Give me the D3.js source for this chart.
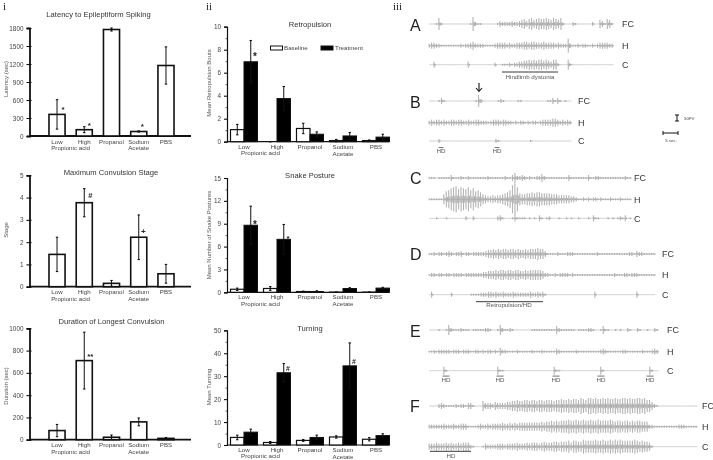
<!DOCTYPE html>
<html>
<head>
<meta charset="utf-8">
<script src="https://cdnjs.cloudflare.com/ajax/libs/d3/7.8.5/d3.min.js"></script>
<style>
  body { margin: 0; background: #fff; }
  text { font-family: "Liberation Sans", Arial, sans-serif; }
  svg { filter: grayscale(1); }
</style>
</head>
<body>
<div id="chart"></div>
<script>
// ---- bar data ----
const drugs = ["Low", "High", "Propanol", "Sodium", "PBS"];

const latency = [360, 105, 1775, 75, 1175];
const latencyErr = [245, 50, 25, 10, 310];
const stage = [1.45, 3.77, 0.15, 2.22, 0.58];
const stageErr = [0.77, 0.63, 0.13, 1.0, 0.42];
const duration = [82, 710, 22, 160, 12];
const durationErr = [55, 255, 20, 35, 8];

const retroBase = [1.05, 0, 1.15, 0.1, 0.1];
const retroBaseErr = [0.45, 0, 0.45, 0.1, 0.05];
const retroTreat = [6.95, 3.75, 0.65, 0.5, 0.4];
const retroTreatErr = [1.85, 1.05, 0.2, 0.3, 0.25];
const snakeBase = [0.4, 0.5, 0.1, 0.02, 0.02];
const snakeBaseErr = [0.15, 0.25, 0.05, 0, 0];
const snakeTreat = [8.8, 6.95, 0.1, 0.5, 0.55];
const snakeTreatErr = [2.5, 1.95, 0.1, 0.1, 0.1];
const turnBase = [3.3, 1.1, 2, 3.5, 2.5];
const turnBaseErr = [1, 0.4, 0.4, 0.5, 0.7];
const turnTreat = [5.6, 31.5, 3.3, 34.5, 4.1];
const turnTreatErr = [1.3, 4, 1, 10, 0.8];

// ---- EEG traces: half height of each wiggle, read left to right ----
const aFC = [0,0,0,1,6,1,0,0,0,0,0,0,0,0,0,0,0,1,7,2,1,1,0,0,0,0,0,0,1,3,2,2,2,2,3,2,2,3,4,5,3,5,6,4,5,6,5,5,6,5,4,6,5,4,6,1,0,0,0,2,1,0,0,0,0,0,0,2,0,0,4,3,1,5,4,1];
const aH = [2,3,3,2,2,1,1,1,1,1,1,1,1,2,1,2,2,3,4,2,2,2,2,1,1,1,1,2,3,3,3,3,2,3,2,2,3,3,3,4,4,3,4,4,3,3,3,4,3,3,3,3,2,3,2,2,2,7,2,1,1,2,1,2,2,1,1,2,1,2,3,3,3,3,2,2];
const aC = [0,0,3,0,0,0,0,0,0,0,0,0,0,0,0,0,3,0,0,0,0,0,0,0,0,0,0,2,0,0,1,1,1,2,1,2,2,3,3,4,4,5,4,5,4,5,5,4,5,4,3,5,5,1,0,0,0,5,1,0,0,0,0,0,0,0,0,0,0,0,0,0,0,0,0,0];
const bFC = [0,0,0,0,1,3,1,0,0,0,0,0,0,0,0,0,0,0,0,1,6,2,0,0,0,0,0,0,1,2,1,0,0,0,0,0,1,1,0,0,0,0,0,0,0,0,0,0,1,1,3,1,3,1,0,1,0,0];
const bH = [2,3,2,3,3,2,3,2,2,3,3,2,3,3,2,2,3,2,2,3,3,2,2,2,1,2,3,3,3,2,3,3,2,2,1,2,1,2,2,1,2,1,2,2,1,2,3,3,3,3,4,4,3,2,3,2,3,2];
const bC = [0,0,0,0,2,0,0,0,0,0,0,0,0,0,0,0,0,0,0,0,0,0,0,0,0,0,0,2,1,0,0,0,0,0,0,0,0,0,0,0,0,1,0,0,0,0,0,0,0,0,0,0,0,0,0,0,0,0];
const cFC = [1,1,1,0,1,1,1,1,1,3,1,1,1,2,1,1,2,1,1,1,1,1,1,1,2,1,1,1,1,1,1,2,1,1,3,5,2,2,3,2,1,2,1,1,2,2,4,2,1,1,1,1,1,1,1,1,1,3,1,1,1,1,1,1,1,3,1,1,2,2,1,1,1,1,1,1,1,1,1,1,2,1,1];
const cH = [1,1,1,1,1,1,5,8,9,11,12,13,10,12,11,10,12,9,11,8,9,7,5,4,3,3,4,3,4,4,5,6,7,9,14,16,12,6,5,5,6,6,7,6,7,7,6,6,6,6,5,5,5,4,4,4,4,4,3,3,2,1,1,2,1,2,1,2,2,1,2,1,1,1,2,1,1,1,2,1,1,1,1];
const cC = [0,0,0,1,0,0,0,1,0,0,0,0,0,0,0,2,0,0,2,0,0,0,0,0,0,0,0,0,2,3,1,0,0,0,1,3,1,1,1,1,0,1,0,1,0,3,1,0,1,2,0,0,0,1,0,0,1,0,1,0,0,1,0,0,0,1,0,3,1,1,0,0,0,1,0,1,0,1,2,1,3,0,1];
const dFC = [1,1,2,1,2,2,1,2,3,2,1,2,2,3,1,2,2,1,2,2,2,2,2,3,4,4,5,4,5,4,5,5,4,5,5,4,5,4,4,5,4,5,5,5,6,5,5,3,1,1,1,1,2,1,1,1,2,2,2,1,1,1,1,1,1,1,1,1,2,1,1,1,1,1,1,1,1,1,1,1,1,2,2,1,3,2,2,1,1,1,1,1];
const dH = [1,2,2,1,2,2,1,2,2,1,2,2,2,2,1,2,2,2,2,2,2,2,3,3,4,4,4,5,4,5,5,4,5,5,4,5,5,4,4,5,4,5,5,5,5,5,4,2,2,1,1,2,1,2,2,2,2,1,2,1,1,1,1,1,1,1,1,1,1,1,1,1,1,1,1,2,1,1,1,2,2,1,2,2,2,1,1,1,1,1,1,1];
const dC = [0,3,0,0,0,0,0,0,0,2,0,0,0,0,0,0,0,1,1,1,1,2,2,2,3,3,2,3,2,2,3,2,2,2,3,2,2,2,2,2,2,3,2,2,3,2,3,1,0,0,0,0,0,0,0,0,0,0,0,0,0,0,0,0,0,0,0,3,0,0,0,0,0,0,0,0,0,0,0,0,0,0,0,0,3,0,0,0,0,0,0,0];
const eFC = [0,0,0,0,1,0,0,1,5,2,1,1,1,2,1,1,1,0,1,1,1,1,1,2,2,1,0,0,1,5,2,1,1,2,1,0,0,0,0,0,0,0,1,1,1,1,1,1,1,1,1,1,4,2,1,1,1,1,1,1,0,1,1,1,1,2,2,1,0,0,1,4,1,1,0,0,1,0,1,0,0,2,1,0,0,2,1,0,0,1,0,0,2,1];
const eH = [1,1,2,1,2,2,2,2,2,1,2,2,2,1,2,2,2,1,1,2,2,1,2,1,2,2,1,2,1,4,2,2,1,1,1,1,2,1,1,1,1,1,2,1,1,1,2,1,1,1,1,1,3,2,1,1,1,1,1,1,2,1,1,1,1,1,1,1,1,1,2,3,2,1,1,1,1,1,1,2,2,1,1,1,1,1,1,2,1,1,1,2,3,2];
const eC = [0,0,0,0,0,0,4,1,0,0,0,0,0,0,0,0,0,0,0,0,0,0,0,0,0,0,0,0,4,1,1,0,0,0,0,0,0,0,0,0,0,0,0,0,0,0,0,0,0,0,0,4,1,1,0,0,0,0,0,0,0,0,0,0,0,0,0,0,0,0,4,1,0,0,0,0,0,0,0,0,0,0,0,0,0,0,0,0,0,0,4,1,0,0];
const fFC = [0,0,0,0,2,3,2,1,1,1,1,2,1,2,2,1,3,3,1,0,0,0,5,3,3,3,2,4,3,3,3,3,4,4,5,5,6,5,5,6,6,5,6,6,5,6,6,5,6,6,6,5,6,6,7,6,6,7,6,7,7,6,8,7,6,8,8,7,8,7,7,8,7,8,7,7,8,7,7,8,8,7,8,7,7,8,8,7,8,6,6,4,2,1,0,0,0,0,0,0,0,0,0,0,0,0,0,0,0,0];
const fH = [2,2,2,2,2,2,3,2,2,2,3,2,2,3,3,3,1,1,1,1,2,3,2,2,3,2,3,3,3,3,4,3,3,4,3,4,3,4,4,4,4,4,4,4,4,4,5,4,5,5,6,5,6,5,6,6,6,7,6,6,7,6,6,7,6,6,7,6,6,7,6,6,6,6,7,6,5,6,6,5,6,6,5,6,5,6,6,5,5,5,2,2,1,1,1,1,1,1,1,1,1,1,2,2,2,1,1,1,1,1];
const fC = [3,3,3,4,3,3,3,4,3,4,3,3,4,3,4,4,4,2,1,0,0,0,1,3,2,2,2,2,3,3,3,2,3,3,3,3,4,3,3,3,4,3,4,4,4,3,4,5,4,4,4,5,5,4,5,5,5,6,4,6,6,5,5,7,6,6,6,6,7,6,6,7,6,6,7,6,7,6,7,6,6,6,6,6,7,6,5,6,5,5,4,1,0,0,0,0,0,0,0,0,0,0,0,0,0,0,0,0,0,0];

const width = 713, height = 460;
const svg = d3.select("#chart").append("svg")
  .attr("width", width).attr("height", height)
  .style("display", "block");

// roman panel numbers
[["i", 3], ["ii", 206], ["iii", 393]].forEach(function(p) {
  svg.append("text").attr("x", p[1]).attr("y", 9.5).text(p[0])
    .style("font-family", "'Liberation Serif', serif").style("font-size", "11px").attr("fill", "#222");
});

// ---- shared bits of the bar panels ----
function drawAxes(p, y) {
  const x = d3.scaleBand().domain(drugs).range(p.band).paddingInner(p.inner).paddingOuter(p.inner / 2);

  const yAxis = svg.append("g").attr("transform", `translate(${p.axisX},0)`)
    .call(d3.axisLeft(y).tickValues(p.ticks).tickSize(3).tickPadding(3).tickFormat(d3.format("d")));
  yAxis.select(".domain").attr("stroke", "#111").attr("stroke-width", p.axisW);
  yAxis.selectAll(".tick line").attr("stroke", "#111").attr("stroke-width", 1.1).attr("x2", -3).attr("x1", p.inTick);
  yAxis.selectAll("text").style("font-size", "6.4px").attr("fill", "#444");

  if (p.minor) {
    const m = svg.append("g").attr("transform", `translate(${p.axisX},0)`)
      .call(d3.axisLeft(y).tickValues(p.minor).tickSize(1.5).tickFormat(""));
    m.select(".domain").remove();
    m.selectAll("line").attr("stroke", "#333").attr("stroke-width", 0.8);
  }

  // x axis line runs past the last band
  svg.append("line").attr("x1", p.axisX).attr("x2", p.xEnd)
    .attr("y1", p.y0).attr("y2", p.y0)
    .attr("stroke", "#111").attr("stroke-width", p.axisW);

  // category labels
  svg.selectAll(null).data(drugs).enter().append("text")
    .attr("x", d => x(d) + x.bandwidth() / 2)
    .attr("y", p.y0 + p.lab1)
    .attr("text-anchor", "middle")
    .style("font-size", "6.2px").attr("fill", "#444")
    .text(d => d);
  svg.append("text")
    .attr("x", (x("Low") + x("High") + x.bandwidth()) / 2)
    .attr("y", p.y0 + p.lab2).attr("text-anchor", "middle")
    .style("font-size", "6.2px").attr("fill", "#444").text("Propionic acid");
  svg.append("text")
    .attr("x", x("Sodium") + x.bandwidth() / 2)
    .attr("y", p.y0 + p.lab3).attr("text-anchor", "middle")
    .style("font-size", "6.2px").attr("fill", "#444").text("Acetate");

  // title and y label
  svg.append("text").attr("x", p.titleX).attr("y", p.titleY).attr("text-anchor", "middle")
    .style("font-size", "7.6px").attr("fill", "#333").text(p.title);
  svg.append("text")
    .attr("transform", `translate(${p.yLabX},${p.yLabY}) rotate(-90)`)
    .attr("text-anchor", "middle")
    .style("font-size", "6px").attr("fill", "#555").text(p.yLab);
  return x;
}

function drawBars(x, y, names, vals, errs, fill, dx, w, sw) {
  svg.selectAll(null).data(vals).enter().append("rect")
    .attr("x", (d, i) => x(names[i]) + dx)
    .attr("y", d => y(d))
    .attr("width", w)
    .attr("height", d => y(0) - y(d))
    .attr("fill", fill).attr("stroke", "#111").attr("stroke-width", sw);
  // whiskers with small caps
  const cx = i => x(names[i]) + dx + w / 2;
  svg.selectAll(null).data(vals).enter().append("line")
    .attr("x1", (d, i) => cx(i)).attr("x2", (d, i) => cx(i))
    .attr("y1", (d, i) => y(d + errs[i]))
    .attr("y2", (d, i) => y(Math.max(0, d - errs[i])))
    .attr("stroke", "#111").attr("stroke-width", 1);
  [1, -1].forEach(function(s) {
    svg.selectAll(null).data(vals).enter().append("line")
      .attr("x1", (d, i) => cx(i) - 1.2).attr("x2", (d, i) => cx(i) + 1.2)
      .attr("y1", (d, i) => y(Math.max(0, d + s * errs[i])))
      .attr("y2", (d, i) => y(Math.max(0, d + s * errs[i])))
      .attr("stroke", "#111").attr("stroke-width", 1.1);
  });
}

function mark(x, y, cat, dx, val, sym, size) {
  svg.append("text")
    .attr("x", x(cat) + x.bandwidth() / 2 + dx).attr("y", y(val))
    .attr("text-anchor", "middle").style("font-size", (size || 8) + "px").attr("fill", "#222")
    .style("font-weight", "bold")
    .text(sym);
}

// ---- column i ----
const col1 = {band: [43.4, 179.6], inner: 0.41, axisX: 29.5, xEnd: 191, axisW: 1.8, inTick: 2,
  lab1: 7.6, lab2: 14.2, lab3: 14.4};

const p1 = Object.assign({}, col1, {y0: 136, title: "Latency to Epileptiform Spiking", titleX: 98.5, titleY: 16.5,
  yLab: "Latency (sec)", yLabX: 8, yLabY: 79, ticks: [0, 300, 600, 900, 1200, 1500, 1800]});
const y1 = d3.scaleLinear().domain([0, 1800]).range([136, 28]);
const x1 = drawAxes(p1, y1);
drawBars(x1, y1, drugs, latency, latencyErr, "#fff", 0, x1.bandwidth(), 1.6);
mark(x1, y1, "Low", 6, 400, "*");
mark(x1, y1, "High", 5, 135, "*");
mark(x1, y1, "Sodium", 3.5, 115, "*");

const p2 = Object.assign({}, col1, {y0: 286.7, title: "Maximum Convulsion Stage", titleX: 111, titleY: 175.3,
  yLab: "Stage", yLabX: 8, yLabY: 230, ticks: [0, 1, 2, 3, 4, 5]});
const y2 = d3.scaleLinear().domain([0, 5]).range([286.7, 175.3]);
const x2 = drawAxes(p2, y2);
drawBars(x2, y2, drugs, stage, stageErr, "#fff", 0, x2.bandwidth(), 1.6);
mark(x2, y2, "High", 6, 3.98, "#", 7.5);
mark(x2, y2, "Sodium", 4.5, 2.35, "+", 8);

const p3 = Object.assign({}, col1, {y0: 439.7, title: "Duration of Longest Convulsion", titleX: 111.5, titleY: 323.5,
  yLab: "Duration (sec)", yLabX: 8, yLabY: 386, ticks: [0, 200, 400, 600, 800, 1000]});
const y3 = d3.scaleLinear().domain([0, 1000]).range([439.7, 328.3]);
const x3 = drawAxes(p3, y3);
drawBars(x3, y3, drugs, duration, durationErr, "#fff", 0, x3.bandwidth(), 1.6);
mark(x3, y3, "High", 6, 725, "**", 8);

// ---- column ii ----
const col2 = {band: [227.5, 392.5], inner: 0.18, axisX: 227, xEnd: 389, axisW: 1.2, inTick: 0,
  lab1: 7, lab2: 13.2, lab3: 14};
const barW = 13.5;

function pairs(x, y, base, baseErr, treat, treatErr) {
  drawBars(x, y, drugs, base, baseErr, "#fff", x.bandwidth() / 2 - barW, barW, 1.2);
  drawBars(x, y, drugs, treat, treatErr, "#000", x.bandwidth() / 2, barW, 1);
}

const p4 = Object.assign({}, col2, {y0: 141.7, title: "Retropulsion", titleX: 310, titleY: 26.5,
  yLab: "Mean Retropulsion Bouts", yLabX: 211, yLabY: 83, ticks: [0, 2, 4, 6, 8, 10], minor: [1, 3, 5, 7, 9]});
const y4 = d3.scaleLinear().domain([0, 10]).range([141.7, 26.7]);
const x4 = drawAxes(p4, y4);
pairs(x4, y4, retroBase, retroBaseErr, retroTreat, retroTreatErr);
mark(x4, y4, "Low", 11, 7.1, "*", 10);

// legend
[["Baseline", "#fff", 270.5, 284], ["Treatment", "#000", 321, 335]].forEach(function(l) {
  svg.append("rect").attr("x", l[2]).attr("y", 46).attr("width", 12).attr("height", 4)
    .attr("fill", l[1]).attr("stroke", "#111").attr("stroke-width", 1);
  svg.append("text").attr("x", l[3]).attr("y", 50.2).text(l[0])
    .style("font-size", "6.2px").attr("fill", "#444");
});

const p5 = Object.assign({}, col2, {y0: 292.3, title: "Snake Posture", titleX: 310, titleY: 177.5,
  yLab: "Mean Number of Snake Postures", yLabX: 211, yLabY: 235, ticks: [0, 3, 6, 9, 12, 15], minor: [1.5, 4.5, 7.5, 10.5, 13.5]});
const y5 = d3.scaleLinear().domain([0, 15]).range([292.3, 178]);
const x5 = drawAxes(p5, y5);
pairs(x5, y5, snakeBase, snakeBaseErr, snakeTreat, snakeTreatErr);
mark(x5, y5, "Low", 11, 8.5, "*", 10);
mark(x5, y5, "High", 11, 6.7, "*", 8);

const p6 = Object.assign({}, col2, {y0: 445, title: "Turning", titleX: 310, titleY: 330.5,
  yLab: "Mean Turning", yLabX: 211, yLabY: 387, ticks: [0, 10, 20, 30, 40, 50], minor: [5, 15, 25, 35, 45]});
const y6 = d3.scaleLinear().domain([0, 50]).range([445, 330.3]);
const x6 = drawAxes(p6, y6);
pairs(x6, y6, turnBase, turnBaseErr, turnTreat, turnTreatErr);
mark(x6, y6, "High", 11, 32.3, "#", 7);
mark(x6, y6, "Sodium", 11, 35.5, "#", 7);

// ---- column iii: EEG traces ----
const line = d3.line().x(d => d.x).y(d => d.y);

function trace(vals, x0, x1, yc, label, labX) {
  const tx = d3.scaleLinear().domain([0, vals.length - 1]).range([x0, x1]);
  const ty = d3.scaleLinear().domain([-20, 20]).range([yc + 20, yc - 20]);
  // each sample is a narrow up-down spike on the baseline, with a small one beside it
  const pts = [];
  vals.forEach(function(v, i) {
    const px = tx(i);
    pts.push({x: px, y: ty(0)}, {x: px + 0.1, y: ty(v)}, {x: px + 0.2, y: ty(-v)}, {x: px + 0.3, y: ty(0)});
    pts.push({x: px + 1.2, y: ty(0)}, {x: px + 1.3, y: ty(v * 0.3)}, {x: px + 1.4, y: ty(-v * 0.3)}, {x: px + 1.5, y: ty(0)});
  });
  svg.append("path").attr("d", line(pts)).attr("fill", "none")
    .attr("stroke", "#777").attr("stroke-width", 0.35);
  svg.append("text").attr("x", labX).attr("y", yc + 3.2).text(label)
    .style("font-size", "9px").attr("fill", "#333");
}

function letter(t, yc) {
  svg.append("text").attr("x", 410).attr("y", yc + 6).text(t)
    .style("font-size", "16px").attr("fill", "#222");
}

function hdLabel(cx, yc, w) {
  svg.append("text").attr("x", cx).attr("y", yc).attr("text-anchor", "middle")
    .style("font-size", "6.2px").attr("fill", "#555").text("HD");
  svg.append("line").attr("x1", cx - w / 2).attr("x2", cx + w / 2)
    .attr("y1", yc - 5.4).attr("y2", yc - 5.4).attr("stroke", "#333").attr("stroke-width", 0.7);
}

function underline(x0, x1, yc, label, cx, ty) {
  svg.append("line").attr("x1", x0).attr("x2", x1).attr("y1", yc).attr("y2", yc)
    .attr("stroke", "#222").attr("stroke-width", 0.9);
  svg.append("text").attr("x", cx).attr("y", ty).attr("text-anchor", "middle")
    .style("font-size", "6.2px").attr("fill", "#555").text(label);
}

letter("A", 25);
trace(aFC, 429, 612, 24, "FC", 622);
trace(aH, 429, 612, 45.7, "H", 622);
trace(aC, 429, 612, 64.7, "C", 622);
underline(502, 558, 72, "Hindlimb dystonia", 530, 78.5);

letter("B", 102);
trace(bFC, 429, 570, 101, "FC", 578);
trace(bH, 429, 570, 122.7, "H", 578);
trace(bC, 429, 570, 141, "C", 578);
[441, 497].forEach(c => hdLabel(c, 153, 5));

// arrow
svg.append("path").attr("d", d3.line()([[479, 83], [479, 91]])).attr("stroke", "#111").attr("stroke-width", 1.1).attr("fill", "none");
svg.append("path").attr("d", d3.line()([[476, 88], [479, 91.5], [482, 88]])).attr("stroke", "#111").attr("stroke-width", 1.1).attr("fill", "none");

// scale bars
svg.append("path").attr("d", d3.line()([[675, 115], [679, 115]])).attr("stroke", "#111");
svg.append("path").attr("d", d3.line()([[677, 115], [677, 121]])).attr("stroke", "#111");
svg.append("path").attr("d", d3.line()([[675, 121], [679, 121]])).attr("stroke", "#111");
svg.append("text").attr("x", 684).attr("y", 120).text("50FV").style("font-size", "4.4px").attr("fill", "#444");
svg.append("path").attr("d", d3.line()([[663, 133], [678, 133]])).attr("stroke", "#111");
svg.append("path").attr("d", d3.line()([[663, 131], [663, 135]])).attr("stroke", "#111");
svg.append("path").attr("d", d3.line()([[678, 131], [678, 135]])).attr("stroke", "#111");
svg.append("text").attr("x", 671).attr("y", 142).attr("text-anchor", "middle").text("5 sec.").style("font-size", "4.4px").attr("fill", "#444");

letter("C", 178);
trace(cFC, 429, 630, 178, "FC", 634);
trace(cH, 429, 630, 199.3, "H", 634);
trace(cC, 429, 630, 218.3, "C", 634);

letter("D", 254);
trace(dFC, 429, 654, 254, "FC", 662);
trace(dH, 429, 654, 275, "H", 662);
trace(dC, 429, 654, 294.7, "C", 662);
underline(476, 543, 301.7, "Retropulsion/HD", 509, 306.5);

letter("E", 331);
trace(eFC, 429, 657, 330, "FC", 667);
trace(eH, 429, 657, 351.7, "H", 667);
trace(eC, 429, 657, 370.7, "C", 667);
[446, 500, 556, 601, 650].forEach(c => hdLabel(c, 381.5, 7));

letter("F", 406);
trace(fFC, 429, 696, 406, "FC", 702);
trace(fH, 429, 696, 426.7, "H", 702);
trace(fC, 429, 696, 446.7, "C", 702);
underline(430, 471, 451.3, "HD", 451, 457.5);
</script>
</body>
</html>
